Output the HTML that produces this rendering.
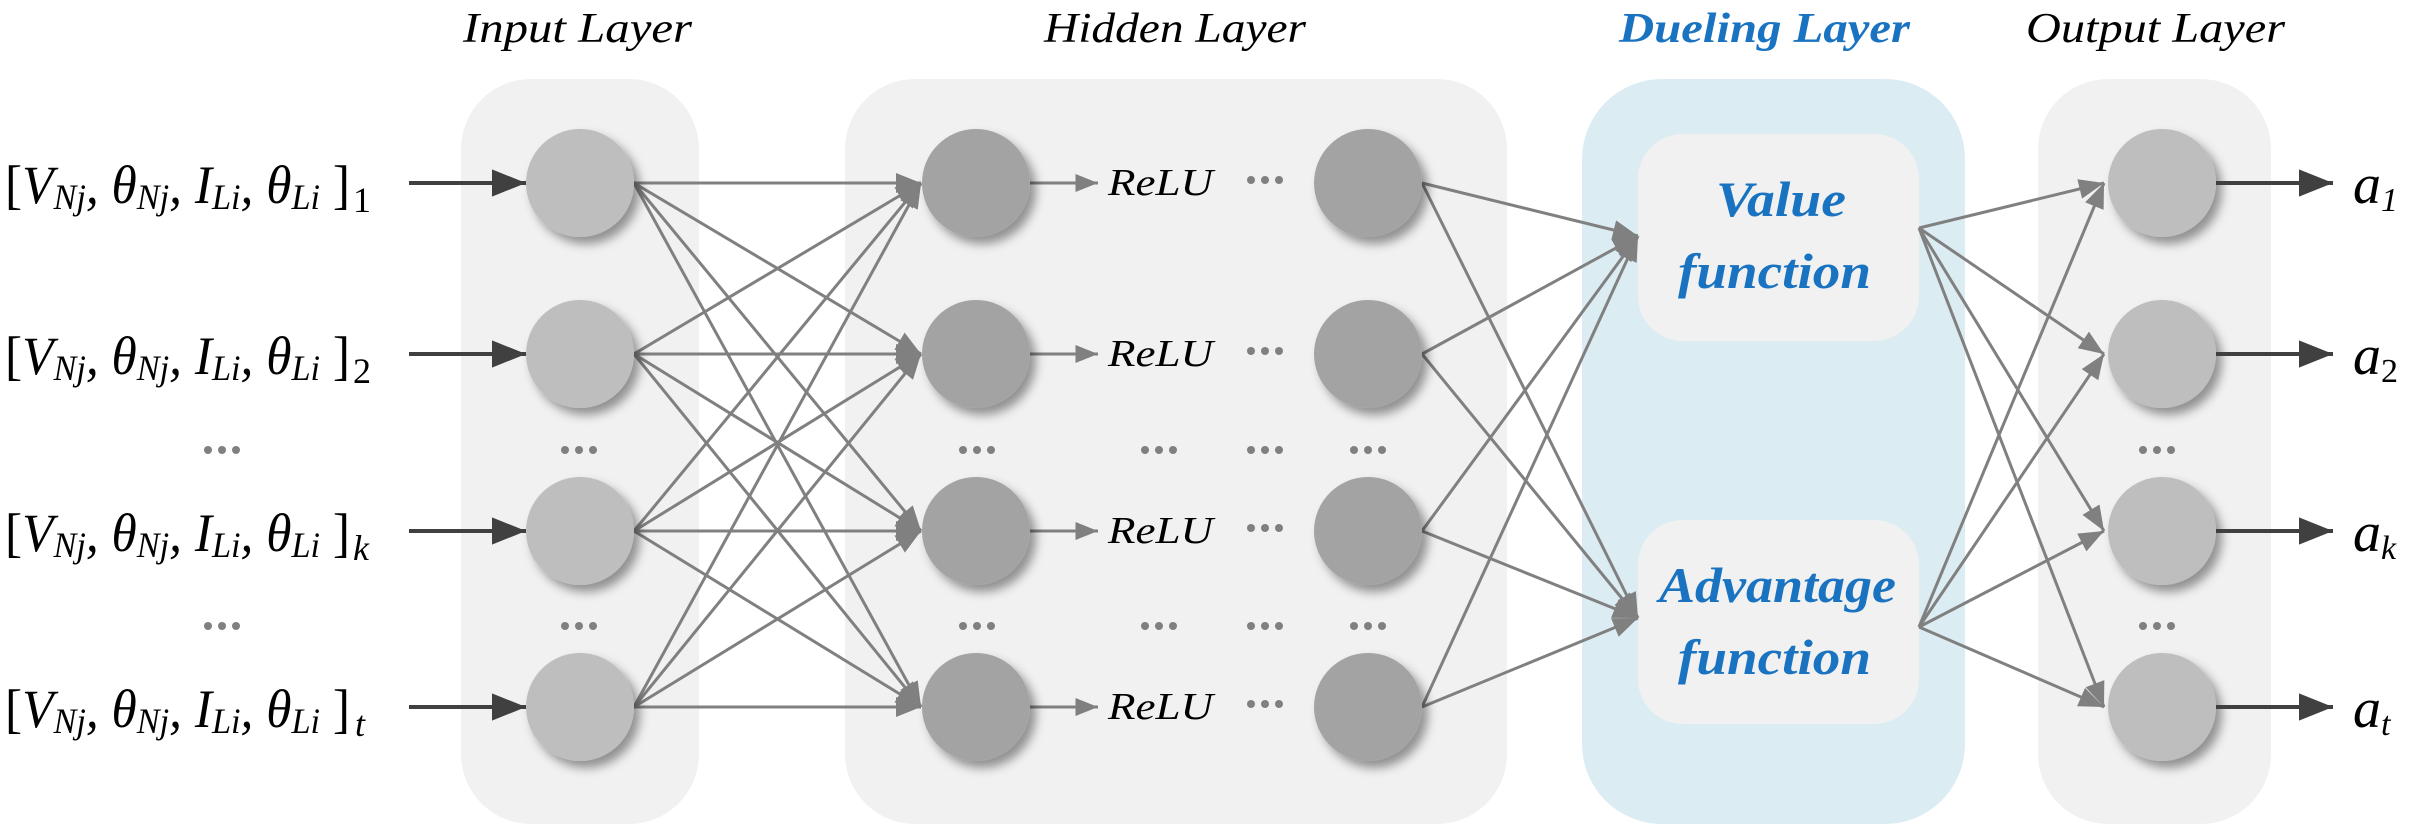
<!DOCTYPE html>
<html><head><meta charset="utf-8"><style>
html,body{margin:0;padding:0;background:#fff;}
svg{display:block;}
svg text{font-family:"Liberation Serif","Times New Roman",serif;}
</style></head><body>
<svg width="2409" height="828" viewBox="0 0 2409 828" xmlns="http://www.w3.org/2000/svg" font-family="'Liberation Serif', serif">
<defs>
<marker id="ga" viewBox="0 0 10 8" markerWidth="26" markerHeight="20" refX="10" refY="4" orient="auto" markerUnits="userSpaceOnUse"><path d="M0,0 L10,4 L0,8 Z" fill="#808080"/></marker>
<marker id="d" viewBox="0 0 10 8" markerWidth="34" markerHeight="28" refX="10" refY="4" orient="auto" markerUnits="userSpaceOnUse"><path d="M0,0 L10,4 L0,8 Z" fill="#404040"/></marker>
<marker id="r" viewBox="0 0 10 8" markerWidth="24" markerHeight="18" refX="10" refY="4" orient="auto" markerUnits="userSpaceOnUse"><path d="M0,0 L10,4 L0,8 Z" fill="#808080"/></marker>
<filter id="sh" x="-30%" y="-30%" width="170%" height="170%"><feDropShadow dx="6" dy="7" stdDeviation="5" flood-color="#000" flood-opacity="0.4"/></filter>
<g id="dd" fill="#808080"><circle cx="-14" cy="0" r="4"/><circle cx="0" cy="0" r="4"/><circle cx="14" cy="0" r="4"/></g>
</defs>
<!-- titles -->
<g font-style="italic" font-size="42" font-family="'Liberation Serif', serif" lengthAdjust="spacingAndGlyphs">
<text x="463" y="42" textLength="229" lengthAdjust="spacingAndGlyphs">Input Layer</text>
<text x="1044" y="42" textLength="262" lengthAdjust="spacingAndGlyphs">Hidden Layer</text>
<text x="1619" y="42" textLength="291" lengthAdjust="spacingAndGlyphs" fill="#1a73c0" font-weight="bold">Dueling Layer</text>
<text x="2026" y="42" textLength="259" lengthAdjust="spacingAndGlyphs">Output Layer</text>
</g>
<!-- boxes -->
<rect x="461" y="79" width="238" height="745" rx="70" fill="#f1f1f1"/>
<rect x="845" y="79" width="662" height="745" rx="70" fill="#f1f1f1"/>
<rect x="1582" y="79" width="383" height="745" rx="80" fill="#dbedf3"/>
<rect x="1638" y="134" width="281" height="207" rx="45" fill="#f1f1f1"/>
<rect x="1638" y="520" width="281" height="204" rx="45" fill="#f1f1f1"/>
<rect x="2038" y="79" width="233" height="745" rx="70" fill="#f1f1f1"/>
<!-- input labels -->
<g font-size="54" font-style="italic" font-family="'Liberation Serif', serif">
<text x="5" y="203" textLength="345" lengthAdjust="spacingAndGlyphs"><tspan font-style="normal">[</tspan>V<tspan font-size="36" dy="6">Nj</tspan><tspan dy="-6">,  θ</tspan><tspan font-size="36" dy="6">Nj</tspan><tspan dy="-6">, I</tspan><tspan font-size="36" dy="6">Li</tspan><tspan dy="-6">,  θ</tspan><tspan font-size="36" dy="6">Li</tspan><tspan dy="-6" font-style="normal"> ]</tspan></text>
<text x="5" y="374" textLength="345" lengthAdjust="spacingAndGlyphs"><tspan font-style="normal">[</tspan>V<tspan font-size="36" dy="6">Nj</tspan><tspan dy="-6">,  θ</tspan><tspan font-size="36" dy="6">Nj</tspan><tspan dy="-6">, I</tspan><tspan font-size="36" dy="6">Li</tspan><tspan dy="-6">,  θ</tspan><tspan font-size="36" dy="6">Li</tspan><tspan dy="-6" font-style="normal"> ]</tspan></text>
<text x="5" y="551" textLength="345" lengthAdjust="spacingAndGlyphs"><tspan font-style="normal">[</tspan>V<tspan font-size="36" dy="6">Nj</tspan><tspan dy="-6">,  θ</tspan><tspan font-size="36" dy="6">Nj</tspan><tspan dy="-6">, I</tspan><tspan font-size="36" dy="6">Li</tspan><tspan dy="-6">,  θ</tspan><tspan font-size="36" dy="6">Li</tspan><tspan dy="-6" font-style="normal"> ]</tspan></text>
<text x="5" y="727" textLength="345" lengthAdjust="spacingAndGlyphs"><tspan font-style="normal">[</tspan>V<tspan font-size="36" dy="6">Nj</tspan><tspan dy="-6">,  θ</tspan><tspan font-size="36" dy="6">Nj</tspan><tspan dy="-6">, I</tspan><tspan font-size="36" dy="6">Li</tspan><tspan dy="-6">,  θ</tspan><tspan font-size="36" dy="6">Li</tspan><tspan dy="-6" font-style="normal"> ]</tspan></text>
</g>
<g font-size="36" font-family="'Liberation Serif', serif">
<text x="353" y="212">1</text>
<text x="353" y="383">2</text>
<text x="353" y="560" font-style="italic">k</text>
<text x="355" y="736" font-style="italic">t</text>
</g>
<!-- input arrows -->
<g stroke="#404040" stroke-width="4" marker-end="url(#d)">
<line x1="409" y1="183" x2="526" y2="183"/>
<line x1="409" y1="354" x2="526" y2="354"/>
<line x1="409" y1="531" x2="526" y2="531"/>
<line x1="409" y1="707" x2="526" y2="707"/>
</g>
<!-- input->hidden edges -->
<g stroke="#808080" stroke-width="3" marker-end="url(#ga)">
<line x1="634" y1="183" x2="921" y2="183"/><line x1="634" y1="183" x2="921" y2="354"/><line x1="634" y1="183" x2="921" y2="531"/><line x1="634" y1="183" x2="921" y2="707"/>
<line x1="634" y1="354" x2="921" y2="183"/><line x1="634" y1="354" x2="921" y2="354"/><line x1="634" y1="354" x2="921" y2="531"/><line x1="634" y1="354" x2="921" y2="707"/>
<line x1="634" y1="531" x2="921" y2="183"/><line x1="634" y1="531" x2="921" y2="354"/><line x1="634" y1="531" x2="921" y2="531"/><line x1="634" y1="531" x2="921" y2="707"/>
<line x1="634" y1="707" x2="921" y2="183"/><line x1="634" y1="707" x2="921" y2="354"/><line x1="634" y1="707" x2="921" y2="531"/><line x1="634" y1="707" x2="921" y2="707"/>
</g>
<!-- hidden col2 -> dueling -->
<g stroke="#808080" stroke-width="3" marker-end="url(#ga)">
<line x1="1422" y1="183" x2="1638" y2="236"/><line x1="1422" y1="183" x2="1638" y2="618"/>
<line x1="1422" y1="354" x2="1638" y2="236"/><line x1="1422" y1="354" x2="1638" y2="618"/>
<line x1="1422" y1="531" x2="1638" y2="236"/><line x1="1422" y1="531" x2="1638" y2="618"/>
<line x1="1422" y1="707" x2="1638" y2="236"/><line x1="1422" y1="707" x2="1638" y2="618"/>
</g>
<!-- dueling -> output -->
<g stroke="#808080" stroke-width="3" marker-end="url(#ga)">
<line x1="1919" y1="228" x2="2104" y2="183"/><line x1="1919" y1="228" x2="2104" y2="354"/><line x1="1919" y1="228" x2="2104" y2="531"/><line x1="1919" y1="228" x2="2104" y2="707"/>
<line x1="1919" y1="627" x2="2104" y2="183"/><line x1="1919" y1="627" x2="2104" y2="354"/><line x1="1919" y1="627" x2="2104" y2="531"/><line x1="1919" y1="627" x2="2104" y2="707"/>
</g>
<!-- ReLU arrows -->
<g stroke="#808080" stroke-width="3" marker-end="url(#r)">
<line x1="1030" y1="183" x2="1098" y2="183"/><line x1="1030" y1="354" x2="1098" y2="354"/><line x1="1030" y1="531" x2="1098" y2="531"/><line x1="1030" y1="707" x2="1098" y2="707"/>
</g>
<g font-size="38" font-style="italic" font-family="'Liberation Serif', serif">
<text x="1108" y="195" textLength="105" lengthAdjust="spacingAndGlyphs">ReLU</text><text x="1108" y="366" textLength="105" lengthAdjust="spacingAndGlyphs">ReLU</text><text x="1108" y="543" textLength="105" lengthAdjust="spacingAndGlyphs">ReLU</text><text x="1108" y="719" textLength="105" lengthAdjust="spacingAndGlyphs">ReLU</text>
</g>
<!-- nodes -->
<g filter="url(#sh)">
<g fill="#bebebe"><circle cx="580" cy="183" r="54"/><circle cx="580" cy="354" r="54"/><circle cx="580" cy="531" r="54"/><circle cx="580" cy="707" r="54"/></g>
<g fill="#a3a3a3"><circle cx="976" cy="183" r="54"/><circle cx="976" cy="354" r="54"/><circle cx="976" cy="531" r="54"/><circle cx="976" cy="707" r="54"/>
<circle cx="1368" cy="183" r="54"/><circle cx="1368" cy="354" r="54"/><circle cx="1368" cy="531" r="54"/><circle cx="1368" cy="707" r="54"/></g>
<g fill="#bebebe"><circle cx="2162" cy="183" r="54"/><circle cx="2162" cy="354" r="54"/><circle cx="2162" cy="531" r="54"/><circle cx="2162" cy="707" r="54"/></g>
</g>
<!-- output arrows -->
<g stroke="#404040" stroke-width="4" marker-end="url(#d)">
<line x1="2216" y1="183" x2="2333" y2="183"/><line x1="2216" y1="354" x2="2333" y2="354"/><line x1="2216" y1="531" x2="2333" y2="531"/><line x1="2216" y1="707" x2="2333" y2="707"/>
</g>
<g font-size="56" font-style="italic" font-family="'Liberation Serif', serif">
<text x="2353" y="203">a<tspan font-size="34" dy="8">1</tspan></text>
<text x="2353" y="374">a<tspan font-size="34" dy="8" font-style="normal">2</tspan></text>
<text x="2353" y="551">a<tspan font-size="34" dy="8">k</tspan></text>
<text x="2353" y="727">a<tspan font-size="34" dy="8">t</tspan></text>
</g>
<!-- dueling texts -->
<g font-size="50" font-style="italic" font-weight="bold" fill="#1a73c0" font-family="'Liberation Serif', serif">
<text x="1716" y="216" textLength="130" lengthAdjust="spacingAndGlyphs">Value</text>
<text x="1678" y="288" textLength="193" lengthAdjust="spacingAndGlyphs">function</text>
<text x="1659" y="602" textLength="237" lengthAdjust="spacingAndGlyphs">Advantage</text>
<text x="1678" y="674" textLength="193" lengthAdjust="spacingAndGlyphs">function</text>
</g>
<!-- ellipsis dots -->
<use href="#dd" x="222" y="450"/><use href="#dd" x="222" y="626"/>
<use href="#dd" x="579" y="450"/><use href="#dd" x="579" y="626"/>
<use href="#dd" x="977" y="450"/><use href="#dd" x="977" y="626"/>
<use href="#dd" x="1159" y="450"/><use href="#dd" x="1159" y="626"/>
<use href="#dd" x="1265" y="450"/><use href="#dd" x="1265" y="626"/>
<use href="#dd" x="1368" y="450"/><use href="#dd" x="1368" y="626"/>
<use href="#dd" x="2157" y="450"/><use href="#dd" x="2157" y="626"/>
<use href="#dd" x="1265" y="180"/><use href="#dd" x="1265" y="351"/><use href="#dd" x="1265" y="528"/><use href="#dd" x="1265" y="704"/>
</svg>
</body></html>
